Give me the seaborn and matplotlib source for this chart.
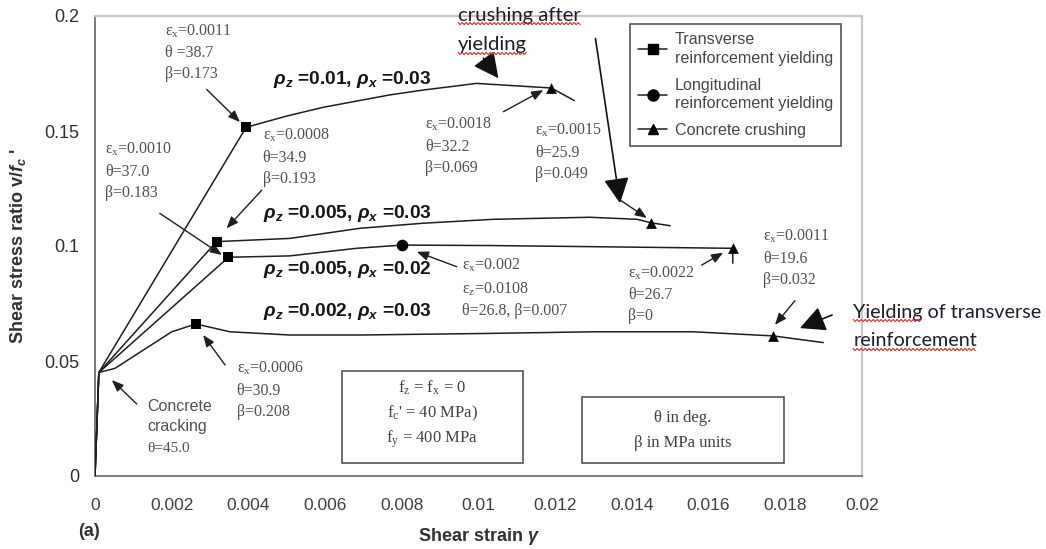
import numpy as np
import pandas as pd
import matplotlib
matplotlib.use("Agg")
import matplotlib.pyplot as plt
from matplotlib.lines import Line2D
from matplotlib.patches import Rectangle
from matplotlib.transforms import IdentityTransform
import seaborn as sns

# ---- shear strain (gamma) vs shear stress ratio v/fc' for four reinforcement cases ----
g_z010_x03 = [0.0, 0.0001, 0.00394, 0.0050, 0.00595, 0.00769, 0.0086, 0.00943, 0.00995, 0.0116, 0.0119, 0.0125]
v_z010_x03 = [0.0, 0.045, 0.1516, 0.1565, 0.1603, 0.1657, 0.1679, 0.1696, 0.1707, 0.1690, 0.1687, 0.1632]

g_z005_x03 = [0.0, 0.0001, 0.00317, 0.00508, 0.00691, 0.00855, 0.01038, 0.0129, 0.01413, 0.0145, 0.0150]
v_z005_x03 = [0.0, 0.045, 0.1019, 0.1033, 0.1077, 0.1099, 0.1116, 0.1125, 0.1116, 0.1101, 0.1088]

g_z005_x02 = [0.0, 0.0001, 0.00348, 0.00508, 0.00682, 0.0080, 0.0103, 0.0130, 0.01663, 0.01663]
v_z005_x02 = [0.0, 0.045, 0.0951, 0.0957, 0.0990, 0.1004, 0.1002, 0.0997, 0.0990, 0.0925]

g_z002_x03 = [0.0, 0.0001, 0.00052, 0.0020, 0.00263, 0.00352, 0.00508, 0.00691, 0.0103, 0.0130, 0.0156, 0.01769, 0.01899]
v_z002_x03 = [0.0, 0.045, 0.0468, 0.0627, 0.0661, 0.0627, 0.0613, 0.0613, 0.0620, 0.0627, 0.0627, 0.0609, 0.0580]

# ---- key events on the curves ----
yield_trans_g = [0.00394, 0.00317, 0.00348, 0.00263]
yield_trans_v = [0.1516, 0.1019, 0.0951, 0.0661]
yield_long_g = [0.0080]
yield_long_v = [0.1004]
crush_g = [0.0119, 0.0145, 0.01663, 0.01769]
crush_v = [0.1687, 0.1101, 0.0990, 0.0609]

x_ticks = [0, 0.002, 0.004, 0.006, 0.008, 0.01, 0.012, 0.014, 0.016, 0.018, 0.02]
x_ticklabels = ["0", "0.002", "0.004", "0.006", "0.008", "0.01", "0.012", "0.014", "0.016", "0.018", "0.02"]
y_ticks = [0, 0.05, 0.1, 0.15, 0.2]
y_ticklabels = ["0", "0.05", "0.1", "0.15", "0.2"]

legend_labels = ["Transverse\nreinforcement yielding",
                 "Longitudinal\nreinforcement yielding",
                 "Concrete crushing"]

sns.set_style("white")
plt.rcParams["font.family"] = ["Liberation Sans", "DejaVu Sans"]
plt.rcParams["mathtext.fontset"] = "custom"
plt.rcParams["mathtext.rm"] = "Liberation Serif"
plt.rcParams["mathtext.it"] = "Liberation Sans:italic:bold"
plt.rcParams["mathtext.bf"] = "Liberation Sans:bold"

fig = plt.figure(figsize=(10.46, 5.49), dpi=100)
ax = fig.add_axes([95 / 1046, 73 / 549, 767 / 1046, 460 / 549])

frames = []
for name, g, v in [("z010_x03", g_z010_x03, v_z010_x03),
                   ("z005_x03", g_z005_x03, v_z005_x03),
                   ("z005_x02", g_z005_x02, v_z005_x02),
                   ("z002_x03", g_z002_x03, v_z002_x03)]:
    frames.append(pd.DataFrame({"case": name, "gamma": g, "ratio": v}))
curves = pd.concat(frames, ignore_index=True)

LINE = "#1e1e1e"
sns.lineplot(data=curves, x="gamma", y="ratio", units="case", estimator=None, sort=False,
             color=LINE, lw=1.1, legend=False, ax=ax, zorder=3)
sns.scatterplot(x=yield_trans_g, y=yield_trans_v, marker="s", s=55, color="black",
                linewidth=0, ax=ax, zorder=5)
sns.scatterplot(x=yield_long_g, y=yield_long_v, marker="o", s=70, color="black",
                linewidth=0, ax=ax, zorder=5)
sns.scatterplot(x=crush_g, y=crush_v, marker="^", s=60, color="black",
                linewidth=0, ax=ax, zorder=5)

ax.set_xlim(0, 0.02)
ax.set_ylim(0, 0.2)
ax.set_xticks(x_ticks)
ax.set_xticklabels(x_ticklabels)
ax.set_yticks(y_ticks)
ax.set_yticklabels(y_ticklabels)
ax.tick_params(axis="y", direction="out", length=6, width=1.2, colors="#707070",
               labelcolor="#303030", labelsize=13, pad=5)
ax.tick_params(axis="x", direction="out", length=5, width=1.2, colors="#808080",
               labelcolor="#404040", labelsize=12.5, pad=11)
for side in ("left", "bottom"):
    ax.spines[side].set_color("#707070")
    ax.spines[side].set_linewidth(1.3)
for side in ("top", "right"):
    ax.spines[side].set_color("#c8c8c8")
    ax.spines[side].set_linewidth(1.6)

ax.set_xlabel(r"Shear strain $\gamma$", fontsize=13, fontweight="bold", color="#303030", labelpad=9)
ax.set_ylabel(r"Shear stress ratio v/$f_c$ '", fontsize=13, fontweight="bold", color="#303030", labelpad=12)
ax.text(-0.00015, -0.024, "(a)", fontsize=13, fontweight="bold", color="#303030",
        ha="center", va="center", clip_on=False)

# ---- legend ----
handles = [Line2D([0], [0], color=LINE, lw=1.1, marker=m, markersize=ms, markerfacecolor="black",
                  markeredgecolor="black")
           for m, ms in (("s", 7), ("o", 8), ("^", 7.5))]
leg = ax.legend(handles, legend_labels, loc="upper left", bbox_to_anchor=(0.6975, 0.982),
                borderaxespad=0, frameon=True, fancybox=False, framealpha=1,
                edgecolor="#555555", fontsize=11.6, borderpad=0.5, labelspacing=0.72,
                handlelength=1.8, handletextpad=0.5)
leg.get_frame().set_linewidth(1.2)
for t in leg.get_texts():
    t.set_color("#454545")
    t.set_linespacing(1.3)

# ---- curve labels ----
BOLD = dict(fontsize=13.8, fontweight="bold", color="#151515", ha="left", va="center")
ax.text(0.00463, 0.1722, r"$\rho_z$ =0.01, $\rho_x$ =0.03", **BOLD)
ax.text(0.00439, 0.1142, r"$\rho_z$ =0.005, $\rho_x$ =0.03", **BOLD)
ax.text(0.00439, 0.0896, r"$\rho_z$ =0.005, $\rho_x$ =0.02", **BOLD)
ax.text(0.00439, 0.0714, r"$\rho_z$ =0.002, $\rho_x$ =0.03", **BOLD)

# ---- state annotations ----
NOTE = dict(fontsize=11.5, family="Liberation Serif", color="#505050", ha="left", va="center",
            linespacing=1.45)
SMALL = dict(arrowstyle="-|>,head_length=0.7,head_width=0.28", color="#1e1e1e", lw=1.0,
             shrinkA=0, shrinkB=0, mutation_scale=10)
BIG = dict(arrowstyle="-|>,head_length=0.6,head_width=0.3", color="#111111", lw=1.2,
           shrinkA=0, shrinkB=0, mutation_scale=26)


def note(x, y, s):
    ax.text(x, y, s, **NOTE)


def arrow(x0, y0, x1, y1, props=SMALL):
    ax.annotate("", xy=(x1, y1), xytext=(x0, y0), arrowprops=props, annotation_clip=False)


note(0.00183, 0.1843, "ε$_\\mathrm{x}$=0.0011\nθ =38.7\nβ=0.173")
arrow(0.00291, 0.1681, 0.00378, 0.1539)
note(0.00437, 0.1387, "ε$_\\mathrm{x}$=0.0008\nθ=34.9\nβ=0.193")
arrow(0.00435, 0.1243, 0.00343, 0.1077)
note(0.00026, 0.1326, "ε$_\\mathrm{x}$=0.0010\nθ=37.0\nβ=0.183")
arrow(0.00169, 0.1142, 0.00331, 0.0961)
note(0.0086, 0.1435, "ε$_\\mathrm{x}$=0.0018\nθ=32.2\nβ=0.069")
arrow(0.01065, 0.1584, 0.01169, 0.1678)
note(0.01147, 0.1409, "ε$_\\mathrm{x}$=0.0015\nθ=25.9\nβ=0.049")
note(0.00956, 0.0817, "ε$_\\mathrm{x}$=0.002\nε$_\\mathrm{z}$=0.0108\nθ=26.8, β=0.007")
arrow(0.00943, 0.0910, 0.00839, 0.0975)
note(0.01391, 0.0791, "ε$_\\mathrm{x}$=0.0022\nθ=26.7\nβ=0")
arrow(0.01582, 0.0917, 0.01638, 0.0971)
note(0.01743, 0.0948, "ε$_\\mathrm{x}$=0.0011\nθ=19.6\nβ=0.032")
arrow(0.01825, 0.0762, 0.01773, 0.0657)
note(0.00369, 0.0374, "ε$_\\mathrm{x}$=0.0006\nθ=30.9\nβ=0.208")
arrow(0.00339, 0.0483, 0.00282, 0.0613)

ax.text(0.00136, 0.0304, "Concrete", fontsize=11.5, color="#505050", ha="left", va="center")
ax.text(0.00136, 0.0214, "cracking", fontsize=11.5, color="#505050", ha="left", va="center")
ax.text(0.00136, 0.0120, "θ=45.0", fontsize=11, family="Liberation Serif", color="#505050",
        ha="left", va="center")
arrow(0.00109, 0.0313, 0.00044, 0.0417)

# ---- boxed notes ----
ax.add_patch(Rectangle((0.322, 0.0283), 0.236, 0.2, transform=ax.transAxes, fill=False,
                       edgecolor="#555555", lw=1.2, zorder=4))
BOX = dict(fontsize=12, family="Liberation Serif", color="#404040", ha="center", va="center",
           transform=ax.transAxes)
ax.text(0.44, 0.191, "f$_\\mathrm{z}$ = f$_\\mathrm{x}$ = 0", **BOX)
ax.text(0.44, 0.137, "f$_\\mathrm{c}$' = 40 MPa)", **BOX)
ax.text(0.44, 0.080, "f$_\\mathrm{y}$ = 400 MPa", **BOX)

ax.add_patch(Rectangle((0.635, 0.0283), 0.263, 0.1435, transform=ax.transAxes, fill=False,
                       edgecolor="#555555", lw=1.2, zorder=4))
ax.text(0.7666, 0.126, "θ in deg.", **BOX)
ax.text(0.7666, 0.0717, "β in MPa units", **BOX)

# ---- callouts ----
CALL = dict(family="Lato", color="#1c1c2c", ha="left", va="center", clip_on=False)
t_crush1 = ax.text(0.00947, 0.2004, "crushing after", fontsize=14.6, **CALL)
t_crush2 = ax.text(0.00947, 0.1874, "yielding", fontsize=14.6, **CALL)
arrow(0.01013, 0.1816, 0.01052, 0.1729, BIG)
arrow(0.01305, 0.1902, 0.01369, 0.1186, BIG)
arrow(0.01361, 0.1209, 0.01439, 0.1122)

t_yield1 = ax.text(0.01977, 0.0713, "Yielding of transverse", fontsize=14.2, **CALL)
t_yield2 = ax.text(0.01977, 0.0587, "reinforcement", fontsize=14.2, **CALL)
arrow(0.01922, 0.0700, 0.01838, 0.0643, BIG)

# red proofing squiggles under the callout words
fig.canvas.draw()
renderer = fig.canvas.get_renderer()


def squiggle(x0, x1, y):
    xs = np.arange(x0, x1 + 0.1, 2.0)
    ys = y + np.where(np.arange(len(xs)) % 2 == 0, 1.1, -1.1)
    fig.add_artist(Line2D(xs, ys, transform=IdentityTransform(), color="#e02828", lw=0.8))


for t in (t_crush1, t_crush2, t_yield2):
    bb = t.get_window_extent(renderer)
    squiggle(bb.x0, bb.x1, bb.y0)

probe = ax.text(0.01977, 0.0713, "Yielding", fontsize=14.2, **CALL)
bb_word = probe.get_window_extent(renderer)
probe.remove()
bb_line = t_yield1.get_window_extent(renderer)
squiggle(bb_word.x0, bb_word.x1, bb_line.y0)

fig.savefig("out.png", dpi=100)
